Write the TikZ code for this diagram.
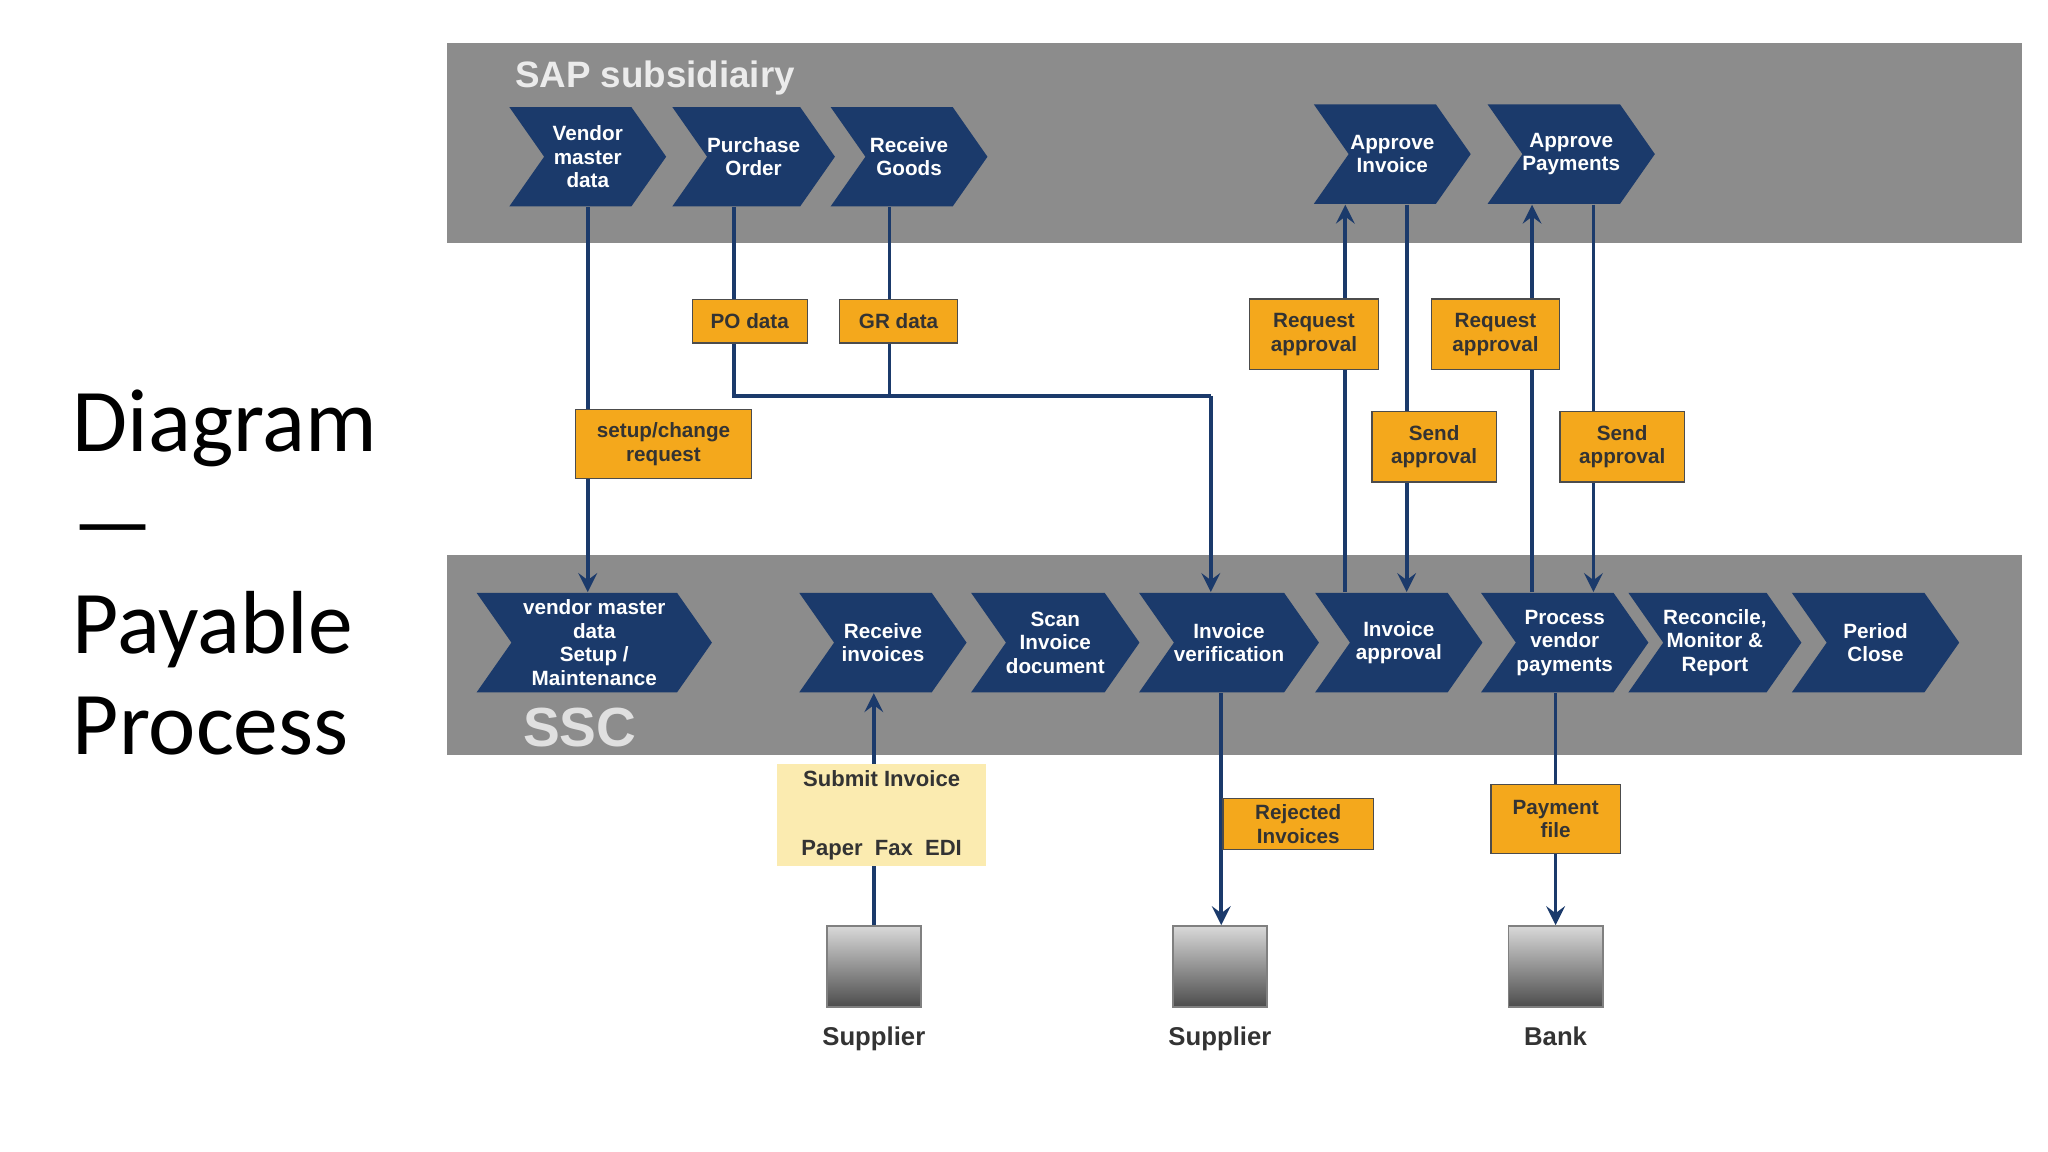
\documentclass[tikz,border=0pt]{standalone}
\usepackage{fontspec}
\setmainfont{Carlito}
\newfontfamily\diafont{Liberation Sans}
\usetikzlibrary{shapes.symbols,positioning,backgrounds}
\definecolor{navy}{HTML}{1B3A6B}
\definecolor{band}{HTML}{8C8C8C}
\definecolor{tag}{HTML}{F4A81C}
\definecolor{pale}{HTML}{FBEBB0}
\begin{document}
\begin{tikzpicture}[x=0.01cm,y=-0.01cm]
\tikzstyle{chev} = [signal, signal to=east, signal from=west, signal pointer angle=110, fill=navy, text=white, minimum width=1.2cm, minimum height=0.76cm, inner sep=0pt, align=center, font=\diafont\bfseries\fontsize{4.5}{5.1}\selectfont]
\tikzstyle{box} = [rectangle, fill=tag, draw=black!70, line width=0.3pt, align=center, font=\diafont\bfseries\fontsize{4.5}{5.1}\selectfont, text=black!80, inner sep=1pt]
\tikzstyle{arrow} = [navy, line width=0.8pt, ->, >=stealth]
\tikzstyle{line} = [navy, line width=0.8pt]
\tikzstyle{house} = [rectangle, minimum width=0.72cm, minimum height=0.62cm, top color=black!15, bottom color=black!70, draw=black!50]
\tikzstyle{caption} = [font=\diafont\bfseries\fontsize{5.6}{7}\selectfont, text=black!80]
\useasboundingbox (0,0) rectangle (1568,882);
%
\node[font=\fontsize{19.5}{22}\selectfont, anchor=north west, align=left, inner sep=0pt] (title) at (55,298) {Diagram\\---\\Payable\\Process};
%
\node (vmd) [chev] at (450,120) {Vendor\\master\\data};
\node (po) [chev] at (577,120) {Purchase\\Order};
\node (rg) [chev] at (696,120) {Receive\\Goods};
\node (ai) [chev] at (1066,118) {Approve\\Invoice};
\node (ap) [chev] at (1203,118) {Approve\\Payments};
%
\node (vms) [chev, minimum width=1.8cm] at (455,492) {vendor master\\data\\Setup /\\Maintenance};
\node (ri) [chev, minimum width=1.28cm] at (676,492) {Receive\\invoices};
\node (scan) [chev, minimum width=1.28cm] at (808,492) {Scan\\Invoice\\document};
\node (iv) [chev, minimum width=1.28cm] at (941,492) {Invoice\\verification};
\node (ia) [chev, minimum width=1.28cm] at (1071,492) {Invoice\\approval};
\node (pvp) [chev, minimum width=1.28cm] at (1198,492) {Process\\vendor\\payments};
\node (rec) [chev, minimum width=1.26cm] at (1313,492) {Reconcile,\\Monitor \&\\Report};
\node (pc) [chev, minimum width=1.28cm] at (1436,492) {Period\\Close};
%
\node (pod) [box, minimum width=0.88cm, minimum height=0.33cm] at (574,246) {PO data};
\node (grd) [box, minimum width=0.9cm, minimum height=0.33cm] at (688,246) {GR data};
\node (scr) [box, minimum width=1.35cm, minimum height=0.53cm] at (508,340) {setup/change\\request};
\node (ra1) [box, minimum width=0.99cm, minimum height=0.54cm] at (1006,256) {Request\\approval};
\node (ra2) [box, minimum width=0.98cm, minimum height=0.54cm] at (1145,256) {Request\\approval};
\node (sa1) [box, minimum width=0.95cm, minimum height=0.54cm] at (1098,342) {Send\\approval};
\node (sa2) [box, minimum width=0.95cm, minimum height=0.54cm] at (1242,342) {Send\\approval};
\node (rej) [box, minimum width=1.15cm, minimum height=0.39cm] at (994,631) {Rejected\\Invoices};
\node (pf) [box, minimum width=0.99cm, minimum height=0.53cm] at (1191,627) {Payment\\file};
\node (sub) [rectangle, fill=pale, minimum width=1.6cm, minimum height=0.78cm, align=center, font=\diafont\bfseries\fontsize{4.8}{6}\selectfont, text=black!80, inner sep=1pt] at (675,624) {Submit Invoice\\[9pt]Paper\ \ Fax\ \ EDI};
%
\node (sup1) [house] at (669,740) {};
\node (sup2) [house] at (934,740) {};
\node (bank) [house] at (1191,740) {};
\node (sl1) [caption, below=0.02cm of sup1] {Supplier};
\node (sl2) [caption, below=0.02cm of sup2] {Supplier};
\node (bl) [caption, below=0.02cm of bank] {Bank};
%
\coordinate (c562) at (562,303);
\coordinate (c681) at (681,303);
\coordinate (c927) at (927,303);
\coordinate (c1030) at (1030,0);
\coordinate (c1077) at (1077,0);
\coordinate (c1173) at (1173,0);
\coordinate (c1220) at (1220,0);
\coordinate (c935) at (935,0);
\coordinate (c1191) at (1191,0);
\begin{scope}[on background layer]
\fill[band] (342,33) rectangle (1548,186);
\fill[band] (342,425) rectangle (1548,578);
\node[font=\diafont\bfseries\fontsize{8}{9}\selectfont, text=black!8, anchor=west] (sap) at (382,60) {SAP subsidiairy};
\node[font=\diafont\bfseries\fontsize{12}{13}\selectfont, text=black!12, anchor=west] (ssc) at (388,557) {SSC};
\draw [arrow] (vmd.south) -- (vmd.south |- vms.north);
\draw [line] (c562 |- po.south) -- (c562) -- (c927);
\draw [arrow] (c927) -- (c927 |- iv.north);
\draw [line] (c681 |- rg.south) -- (c681);
\draw [arrow] (c1030 |- ia.north) -- (c1030 |- ai.south);
\draw [arrow] (c1077 |- ai.south) -- (c1077 |- ia.north);
\draw [arrow] (c1173 |- pvp.north) -- (c1173 |- ap.south);
\draw [arrow] (c1220 |- ap.south) -- (c1220 |- pvp.north);
\draw [arrow] (sup1.north) -- (sup1.north |- ri.south);
\draw [arrow] (c935 |- iv.south) -- (c935 |- sup2.north);
\draw [arrow] (c1191 |- pvp.south) -- (bank.north);
\end{scope}
\end{tikzpicture}
\end{document}
